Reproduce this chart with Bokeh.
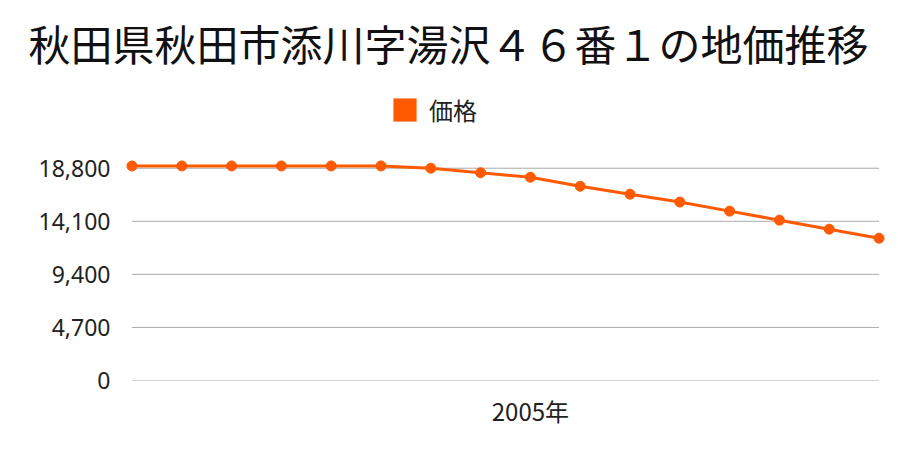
from bokeh.plotting import figure
from bokeh.models import (ColumnDataSource, Range1d, FixedTicker, NumeralTickFormatter,
                          Legend, LegendItem, Title)
from bokeh.embed import file_html
from bokeh.resources import INLINE

# ---- data ----
years = [str(y) for y in range(1997, 2013)]
prices = [19000, 19000, 19000, 19000, 19000, 19000, 18800, 18400, 18000,
          17200, 16500, 15800, 15000, 14200, 13400, 12600]
y_ticks = [0, 4700, 9400, 14100, 18800]
x_label_year = "2005"
title_text = "秋田県秋田市添川字湯沢４６番１の地価推移"
series_name = "価格"

ORANGE = "#ff5a00"
FONT = "Noto Sans CJK JP"
idx = list(range(len(years)))
src = ColumnDataSource(dict(x=idx, y=prices))

# frame extends above the grid so the legend can sit inside it
p = figure(width=900, height=450, output_backend="svg", toolbar_location=None,
           x_range=Range1d(-0.15, len(years) - 1 + 0.15), y_range=Range1d(0, 26480),
           min_border_left=124, min_border_right=14, min_border_bottom=70,
           min_border_top=80, title=None)
p.outline_line_color = None
p.xgrid.visible = False
p.ygrid.visible = False

# grid lines spanning the data extent
gsrc = ColumnDataSource(dict(x0=[0] * len(y_ticks), x1=[len(years) - 1] * len(y_ticks),
                             y=y_ticks))
p.segment(x0="x0", y0="y", x1="x1", y1="y", source=gsrc, line_color="#aaaaaa", line_width=1)

line = p.line("x", "y", source=src, line_color=ORANGE, line_width=3)
p.scatter("x", "y", source=src, size=10, fill_color=ORANGE, line_color=ORANGE)

# legend swatch (hidden quad renderer used only for the legend)
sw = p.quad(left=idx[:1], right=idx[:1], top=[0], bottom=[0],
            fill_color=ORANGE, line_color=None)
sw.visible = False

# axes
p.yaxis.ticker = FixedTicker(ticks=y_ticks)
p.yaxis.formatter = NumeralTickFormatter(format="0,0")
p.yaxis.axis_line_color = None
p.yaxis.major_tick_line_color = None
p.yaxis.minor_tick_line_color = None
p.yaxis.major_label_text_font = "Noto Sans"
p.yaxis.major_label_text_font_size = "23px"
p.yaxis.major_label_text_color = "#222222"
p.yaxis.major_label_standoff = 8

yr_i = years.index(x_label_year)
p.xaxis.ticker = FixedTicker(ticks=[yr_i])
p.xaxis.major_label_overrides = {yr_i: x_label_year + "年"}
p.xaxis.axis_line_color = None
p.xaxis.major_tick_line_color = None
p.xaxis.minor_tick_line_color = None
p.xaxis.major_label_text_font = FONT
p.xaxis.major_label_text_font_size = "24px"
p.xaxis.major_label_text_color = "#222222"
p.xaxis.major_label_standoff = 6

legend = Legend(items=[LegendItem(label=series_name, renderers=[sw])],
                orientation="horizontal", location=(266, 253),
                label_text_font=FONT, label_text_font_size="24px",
                label_text_color="#222222", glyph_width=29, glyph_height=29,
                border_line_color=None, background_fill_alpha=0,
                padding=4, margin=0, label_standoff=10)
p.add_layout(legend, "center")

t = Title(text=title_text, align="left", text_font=FONT, text_font_size="42px",
          text_font_style="normal", text_color="#111111", offset=-96, standoff=18)
p.add_layout(t, "above")

open("out.html", "w").write(file_html(p, INLINE))
